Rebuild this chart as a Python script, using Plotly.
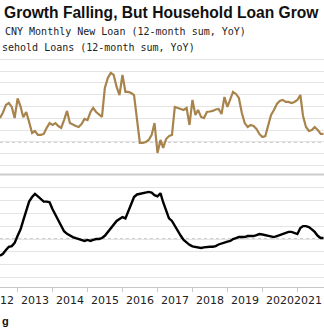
import pandas as pd
import plotly.graph_objects as go

months = pd.date_range("2012-07-01", "2021-10-01", freq="MS")

cny_new_loan_yoy = [20.3, 25, 31.4, 33, 29.7, 20.3, 37, 30, 21, 25.4,
                    17, 7.6, 9.3, 6, 6, 6.8, 12, 16, 14.4, 16,
                    13.5, 12, 18.6, 26.3, 16, 14.4, 13.5, 12.7, 15.3, 19.5,
                    18.6, 25.4, 28.8, 25.4, 22.9, 21.2, 45.8, 54.2, 58.5, 56.8,
                    46.6, 39.8, 56.8, 42.4, 42.4, 41.5, 39.8, 17, -0.8, -0.8,
                    0, 1.7, 6, 16, -9.3, 1.7, -5, 2.5, 5, 6,
                    29.7, 28.8, 28, 27.1, 28.8, 14.4, 35.6, 22.9, 27.1, 21.2,
                    20.3, 25.4, 25.8, 26.3, 27.5, 28, 23.7, 38.1, 29.7, 37.3,
                    42.4, 40.7, 37.3, 24.6, 16, 12.7, 14.4, 13.5, 11, 6.8,
                    4.2, 5, 13.5, 22.9, 27.1, 32.2, 34.7, 35.6, 33.9, 33.9,
                    33, 33.9, 35.6, 39.8, 22, 12.7, 9.3, 10.2, 12.7, 10.2,
                    6.8, 6.8]

household_loan_yoy = [-26, -23, -17, -12, -11, -6, 5, 15, 29, 45,
                      58, 65, 70, 66, 62, 58, 58, 57, 46, 37,
                      31, 20, 12, 8, 5, 3, 1.5, 0, -1.5, -3,
                      -1.5, -3, -1.5, 0, 0, 1.5, 5, 11, 17, 23,
                      28, 31, 34, 32, 43, 55, 65, 69, 70, 71,
                      71, 73, 72, 68, 66, 71, 57, 45, 32, 28,
                      20, 12, 5, -1.5, -6, -9, -11.5, -12, -13, -14,
                      -13, -12, -12, -12, -11, -8.5, -7, -4.6, -4, -3,
                      0, 1.5, 3, 3, 3, 4.6, 4.6, 4.6, 6, 7.7,
                      7, 6, 4, 3, 3, 4.6, 6, 7.7, 9, 11,
                      11, 9, 7.7, 17, 20, 20, 18.5, 15, 11, 5,
                      1.5, 1.5]

years = list(range(2012, 2022))
year_labels = [str(y) for y in years]
label_dates = [f"{y}-07-01" for y in years]
boundary_dates = [f"{y}-01-01" for y in range(2013, 2022)]

W, H = 324, 334
B = 47
PH = H - B  # plot area height in px (t=0)

def py(px):
    return (PH - px) / PH

fig = go.Figure()
fig.add_trace(go.Scatter(x=months, y=cny_new_loan_yoy, mode="lines",
                         line=dict(color="#a8844c", width=2.2),
                         xaxis="x", yaxis="y", hoverinfo="skip"))
fig.add_trace(go.Scatter(x=months, y=household_loan_yoy, mode="lines",
                         line=dict(color="#000000", width=2.4),
                         xaxis="x", yaxis="y2", hoverinfo="skip"))

grid = "#e4e4e4"
annotations = [
    dict(text="<b>Growth Falling, But Household Loan Grow</b>",
         xref="paper", yref="paper", x=2 / W, y=py(13),
         xanchor="left", yanchor="middle", showarrow=False,
         font=dict(family="Liberation Sans", size=15.6, color="#111")),
    dict(text="CNY Monthly New Loan (12-month sum, YoY)",
         xref="paper", yref="paper", x=3 / W, y=py(32),
         xanchor="left", yanchor="middle", showarrow=False,
         font=dict(family="DejaVu Sans Mono", size=10, color="#222")),
    dict(text="sehold Loans (12-month sum, YoY)",
         xref="paper", yref="paper", x=0, y=py(48),
         xanchor="left", yanchor="middle", showarrow=False,
         font=dict(family="DejaVu Sans Mono", size=10, color="#222")),
    dict(text="<b>g</b>",
         xref="paper", yref="paper", x=0, y=py(321),
         xanchor="left", yanchor="middle", showarrow=False,
         font=dict(family="Liberation Sans", size=11, color="#111")),
]
n = len(year_labels)
for i, (d, lab) in enumerate(zip(label_dates, year_labels)):
    if i == n - 1:
        pos = dict(xref="paper", x=1, xanchor="right")
    else:
        pos = dict(xref="x", x=d, xanchor="center")
    annotations.append(dict(text=lab, yref="paper", y=py(300),
                            yanchor="middle", showarrow=False,
                            font=dict(family="DejaVu Sans", size=11, color="#222"),
                            **pos))

fig.update_layout(
    width=W, height=H,
    margin=dict(l=0, r=0, t=0, b=B),
    paper_bgcolor="white", plot_bgcolor="white",
    showlegend=False,
    xaxis=dict(type="date", range=["2012-07-01", "2021-10-06"],
               anchor="y2", showgrid=False, zeroline=False,
               showline=True, linecolor="#c8c8c8", linewidth=1,
               tickmode="array", tickvals=boundary_dates,
               ticktext=[""] * len(boundary_dates),
               ticks="outside", ticklen=4, tickcolor="#c8c8c8"),
    yaxis=dict(domain=[py(173), py(53)], range=[-26.3, 75.4],
               tick0=0, dtick=10, showticklabels=False, ticks="",
               showgrid=True, gridcolor=grid, gridwidth=1, zeroline=False,
               anchor="x"),
    yaxis2=dict(domain=[0, py(175)], range=[-74.4, 99.2],
                tick0=0, dtick=20, showticklabels=False, ticks="",
                showgrid=True, gridcolor=grid, gridwidth=1, zeroline=False,
                anchor="x"),
    shapes=[
        dict(type="line", xref="paper", x0=0, x1=1, yref="y", y0=0, y1=0,
             line=dict(color="#999999", width=1, dash="3px,3px"), layer="below"),
        dict(type="line", xref="paper", x0=0, x1=1, yref="y2", y0=0, y1=0,
             line=dict(color="#999999", width=1, dash="3px,3px"), layer="below"),
        dict(type="line", xref="paper", x0=0, x1=1, yref="paper",
             y0=py(174.5), y1=py(174.5),
             line=dict(color="#cccccc", width=2), layer="below"),
    ],
    annotations=annotations,
)

fig.write_html("out.html")
